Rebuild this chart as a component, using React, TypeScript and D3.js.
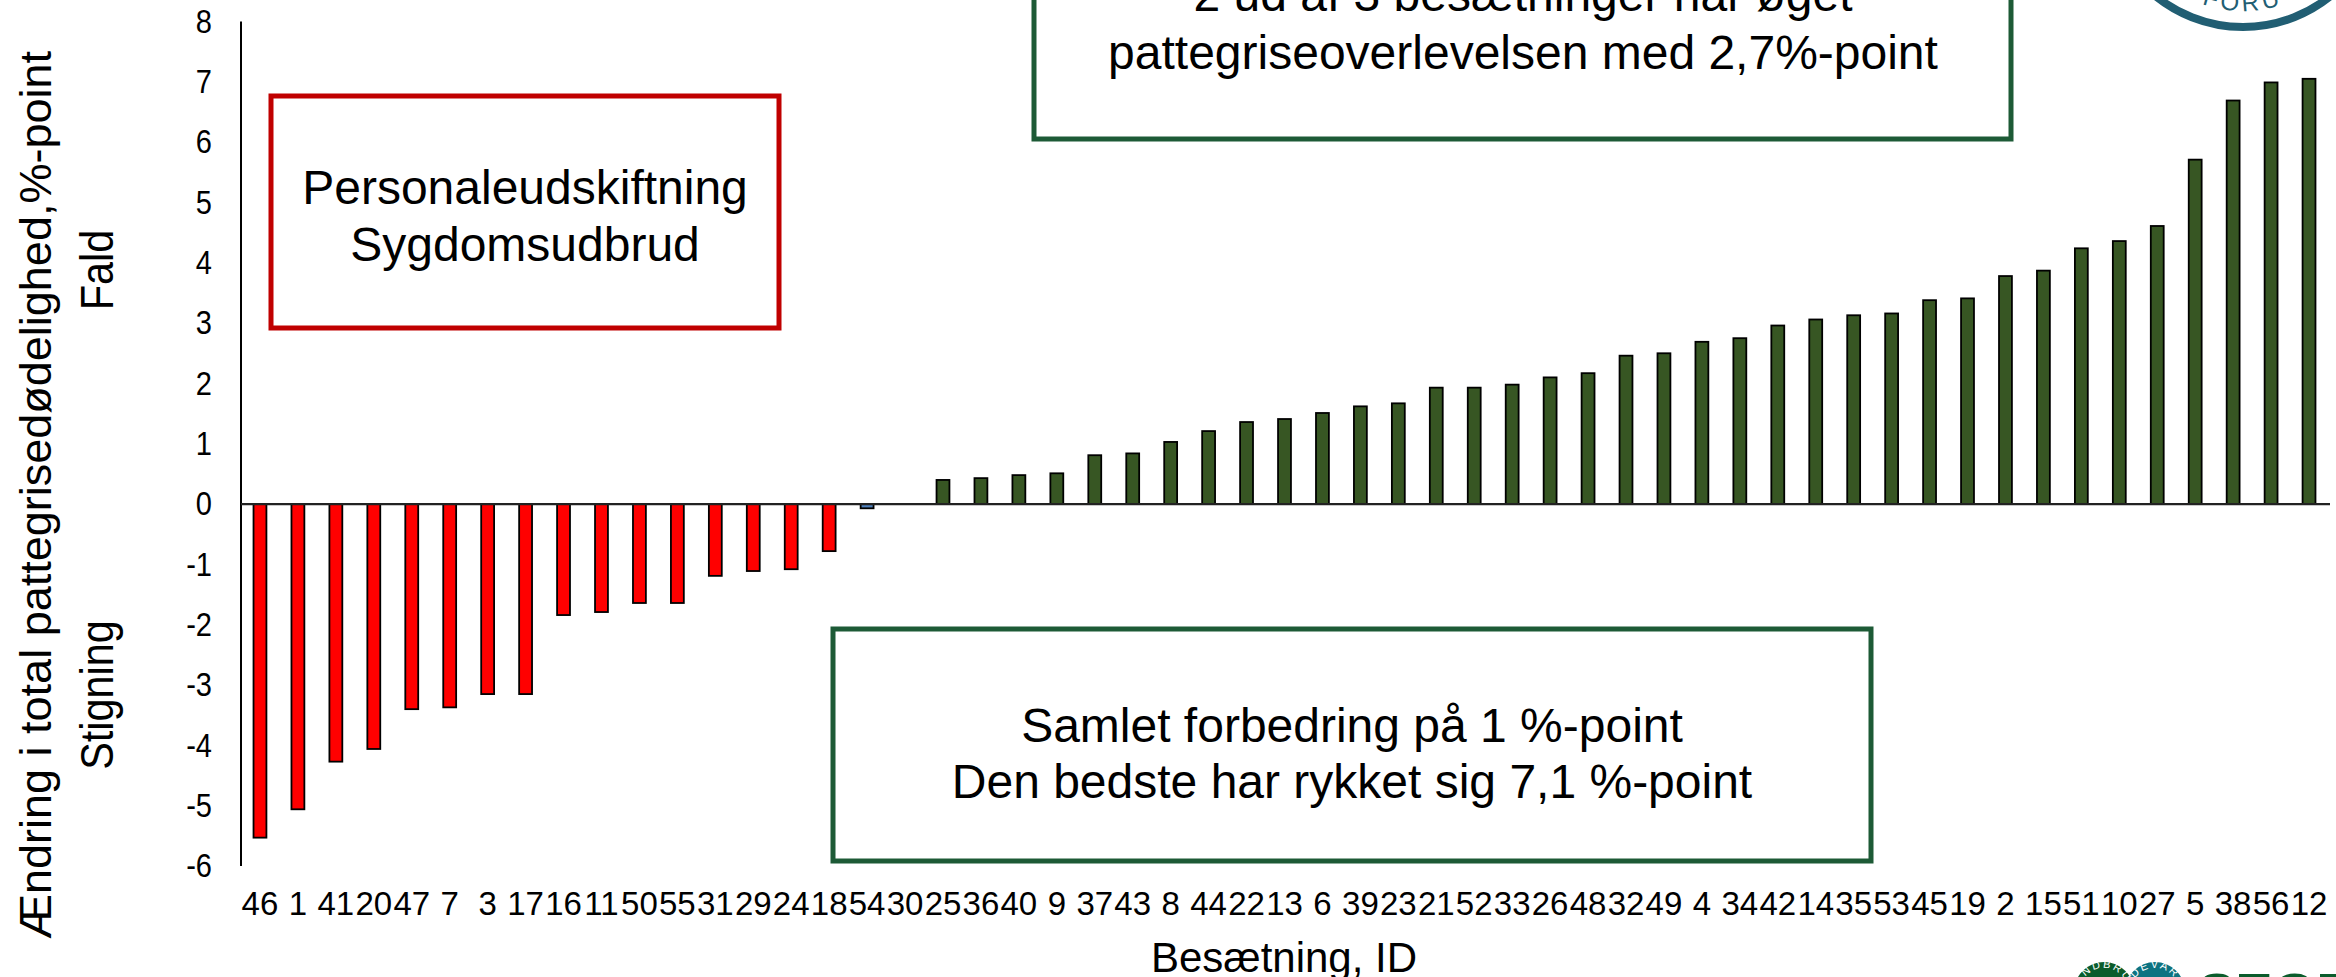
import React from "react";
import * as d3 from "d3";

const herdIds = ["46","1","41","20","47","7","3","17","16","11","50","55","31","29","24","18","54","30","25","36","40","9","37","43","8","44","22","13","6","39","23","21","52","33","26","48","32","49","4","34","42","14","35","53","45","19","2","15","51","10","27","5","38","56","12"];
const changeValues = [-5.53,-5.06,-4.27,-4.06,-3.40,-3.37,-3.15,-3.15,-1.84,-1.79,-1.64,-1.64,-1.19,-1.11,-1.08,-0.78,-0.07,0,0.40,0.43,0.48,0.51,0.81,0.84,1.03,1.21,1.36,1.41,1.51,1.62,1.67,1.93,1.93,1.98,2.10,2.17,2.46,2.50,2.69,2.75,2.96,3.06,3.13,3.16,3.38,3.41,3.78,3.87,4.24,4.36,4.61,5.71,6.69,6.99,7.05];
const yTicks = [8,7,6,5,4,3,2,1,0,-1,-2,-3,-4,-5,-6];

const redBoxLines = ["Personaleudskiftning", "Sygdomsudbrud"];
const topBoxLines = ["2 ud af 3 besætninger har øget", "pattegriseoverlevelsen med 2,7%-point"];
const bottomBoxLines = ["Samlet forbedring på 1 %-point", "Den bedste har rykket sig 7,1 %-point"];

const W = 2336, H = 977;
const FONT = "'Liberation Sans', Arial, sans-serif";

export default function App() {
  const x = d3.scaleBand<string>().domain(herdIds).range([241, 2328]).paddingInner(0.66).paddingOuter(0.33);
  const y = d3.scaleLinear().domain([-6, 8]).range([866, 21.5]);
  const y0 = y(0);
  const fillFor = (v: number) => (v < -0.5 ? "#FF0000" : v < 0 ? "#4F81BD" : "#375623");

  return (
    <svg width={W} height={H} style={{ position: "absolute", left: 0, top: 0, background: "#fff" }} fontFamily={FONT}>
      {/* bars */}
      {herdIds.map((id, i) => {
        const v = changeValues[i];
        if (v === 0) return null;
        const top = Math.min(y(v), y0);
        const h = Math.abs(y(v) - y0);
        return (
          <rect key={id} x={x(id)} y={top} width={x.bandwidth()} height={h}
            fill={fillFor(v)} stroke="#000" strokeWidth={1.8} />
        );
      })}
      {/* axes */}
      <line x1={241} x2={241} y1={y(8)} y2={y(-6)} stroke="#000" strokeWidth={2} />
      <line x1={241} x2={2330} y1={y0} y2={y0} stroke="#222" strokeWidth={2.2} />
      {yTicks.map((t) => (
        <text key={t} transform={`translate(212,${y(t)}) scale(0.88,1)`} textAnchor="end" dominantBaseline="central" fontSize={33} fill="#000">{t}</text>
      ))}
      {herdIds.map((id) => (
        <text key={"l" + id} x={(x(id) as number) + x.bandwidth() / 2} y={915} textAnchor="middle" fontSize={33} fill="#000">{id}</text>
      ))}
      <text x={1284} y={972} textAnchor="middle" fontSize={42} fill="#000">Besætning, ID</text>
      <text transform="translate(51,495) rotate(-90)" textAnchor="middle" fontSize={45} fill="#000">Ændring i total pattegrisedødelighed,%-point</text>
      <text transform="translate(113,270) rotate(-90) scale(0.9,1)" textAnchor="middle" fontSize={46} fill="#000">Fald</text>
      <text transform="translate(113,695) rotate(-90) scale(0.9,1)" textAnchor="middle" fontSize={46} fill="#000">Stigning</text>

      {/* red box */}
      <rect x={271} y={96} width={508} height={232} fill="#fff" stroke="#C00000" strokeWidth={5} />
      {redBoxLines.map((s, i) => (
        <text key={s} x={525} y={204 + i * 57} textAnchor="middle" fontSize={48} fill="#000">{s}</text>
      ))}

      {/* top green box */}
      <rect x={1034} y={-40} width={977} height={179} fill="#fff" stroke="#1D5A36" strokeWidth={5} />
      {topBoxLines.map((s, i) => (
        <text key={s} x={1523} y={11 + i * 58} textAnchor="middle" fontSize={48} fill="#000">{s}</text>
      ))}

      {/* bottom green box */}
      <rect x={833} y={629} width={1038} height={232} fill="#fff" stroke="#1D5A36" strokeWidth={5} />
      {bottomBoxLines.map((s, i) => (
        <text key={s} x={1352} y={742 + i * 56} textAnchor="middle" fontSize={48} fill="#000">{s}</text>
      ))}

      {/* top-right logo fragment */}
      <defs>
        <path id="logoArc" d="M 2120 -112 A 123 123 0 0 0 2366 -112" />
        <path id="lbArc" d="M 2080 992 A 24 24 0 0 1 2128 992" />
        <path id="fvArc" d="M 2131 992 A 24 24 0 0 1 2179 992" />
      </defs>
      <circle cx={2243} cy={-112} r={139} fill="none" stroke="#215E73" strokeWidth={8} />
      <text fontSize={24} fill="#215E73" letterSpacing={4}>
        <textPath href="#logoArc" startOffset="50%" textAnchor="middle">· FORU ·</textPath>
      </text>

      {/* bottom-right logo fragment */}
      <circle cx={2104} cy={992} r={30} fill="#0B5C2C" />
      <circle cx={2155} cy={992} r={30} fill="#006C7A" fillOpacity={0.95} />
      <text fontSize={11} fill="#fff" letterSpacing={2}>
        <textPath href="#lbArc" startOffset="50%" textAnchor="middle">LANDBRUG</textPath>
      </text>
      <text fontSize={11} fill="#fff" letterSpacing={2}>
        <textPath href="#fvArc" startOffset="50%" textAnchor="middle">FØDEVARER</textPath>
      </text>
      <text x={2198} y={1012} fontSize={56} fontWeight="bold" fill="#0B5C2C">SEGES</text>
    </svg>
  );
}
